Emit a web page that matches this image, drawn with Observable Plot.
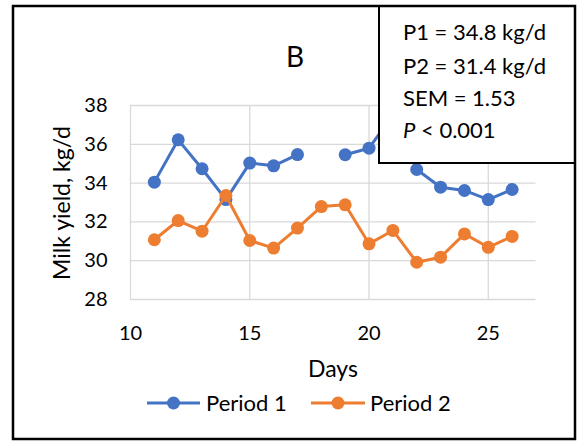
<!DOCTYPE html>
<html><head><meta charset="utf-8">
<script src="https://cdn.jsdelivr.net/npm/d3@7"></script>
<script src="https://cdn.jsdelivr.net/npm/@observablehq/plot@0.6"></script>
<style>
html,body{margin:0;padding:0;background:#fff;}
#chart svg{display:block;}
</style>
</head><body><div id="chart"></div>
<script>
// ---- data ----
const days = [11, 12, 13, 14, 15, 16, 17, 18, 19, 20, 21, 22, 23, 24, 25, 26];
const period1 = [34.05, 36.23, 34.74, 33.15, 35.03, 34.89, 35.47, null, 35.46, 35.8, 37.5, 34.7, 33.79, 33.62, 33.15, 33.67];
const period2 = [31.08, 32.07, 31.52, 33.36, 31.04, 30.65, 31.68, 32.79, 32.88, 30.87, 31.56, 29.92, 30.18, 31.38, 30.69, 31.25];
const seriesNames = ["Period 1", "Period 2"];
const seriesColors = ["#4472C4", "#ED7D31"];
const xTicks = [10, 15, 20, 25];
const yTicks = [28, 30, 32, 34, 36, 38];
const chartTitle = "B";
const xTitle = "Days";
const yTitle = "Milk yield, kg/d";
const statLines = ["P1 = 34.8 kg/d", "P2 = 31.4 kg/d", "SEM = 1.53"];
const pLine = {italic: "P", rest: " < 0.001"};

const rows1 = days.map((d, i) => ({day: d, value: period1[i], series: seriesNames[0]}));
const rows2 = days.map((d, i) => ({day: d, value: period2[i], series: seriesNames[1]}));

const FONT = "Lato, 'Open Sans', sans-serif";
const W = 577, H = 441;

const plot = Plot.plot({
  width: W, height: H,
  marginLeft: 130, marginRight: 41.5, marginTop: 105, marginBottom: 142,
  style: {fontFamily: FONT, fontSize: "20px", color: "#000", background: "#fff", overflow: "visible"},
  x: {domain: [10, 27], label: null},
  y: {domain: [28, 38], label: null},
  color: {domain: seriesNames, range: seriesColors},
  marks: [
    Plot.gridX(xTicks, {stroke: "#d9d9d9", strokeOpacity: 1, strokeWidth: 1.3}),
    Plot.gridY(yTicks, {stroke: "#d9d9d9", strokeOpacity: 1, strokeWidth: 1.3}),
    Plot.axisX(xTicks, {tickSize: 0, tickPadding: 26, label: null, fontSize: 20}),
    Plot.axisY(yTicks, {tickSize: 0, tickPadding: 23, label: null, fontSize: 20}),
    Plot.line(rows1, {x: "day", y: "value", stroke: "series", strokeWidth: 3}),
    Plot.dot(rows1, {x: "day", y: "value", fill: "series", r: 6.5}),
    Plot.line(rows2, {x: "day", y: "value", stroke: "series", strokeWidth: 3}),
    Plot.dot(rows2, {x: "day", y: "value", fill: "series", r: 6.5})
  ]
});
document.getElementById("chart").appendChild(plot);

// ---- decorations (titles, stat box, legend, border) ----
const svg = d3.select(plot);
const g = svg.append("g").attr("font-family", FONT).attr("fill", "#000").attr("text-anchor", "start");

g.append("text").attr("x", 295).attr("y", 67).attr("text-anchor", "middle")
  .attr("font-size", 28).text(chartTitle);

g.append("text").attr("x", 333).attr("y", 377).attr("text-anchor", "middle")
  .attr("font-size", 23).text(xTitle);

g.append("text").attr("transform", "translate(70,203) rotate(-90)")
  .attr("text-anchor", "middle").attr("font-size", 23).text(yTitle);

// stat box
g.append("rect").attr("x", 379).attr("y", 6).attr("width", 196).attr("height", 157)
  .attr("fill", "#fff").attr("stroke", "#000").attr("stroke-width", 2);
const baselines = [40, 74, 106, 137.5];
statLines.forEach((t, i) => {
  g.append("text").attr("x", 403).attr("y", baselines[i]).attr("font-size", 22).text(t);
});
const pt = g.append("text").attr("x", 403).attr("y", baselines[3]).attr("font-size", 22);
pt.append("tspan").attr("font-style", "italic").text(pLine.italic);
pt.append("tspan").text(pLine.rest);

// legend
const legendItems = [
  {x0: 147, x1: 200, tx: 206},
  {x0: 311, x1: 365, tx: 370}
];
legendItems.forEach((it, i) => {
  const ly = 403;
  g.append("line").attr("x1", it.x0).attr("x2", it.x1).attr("y1", ly).attr("y2", ly)
    .attr("stroke", seriesColors[i]).attr("stroke-width", 3);
  g.append("circle").attr("cx", (it.x0 + it.x1) / 2).attr("cy", ly).attr("r", 6.5)
    .attr("fill", seriesColors[i]);
  g.append("text").attr("x", it.tx).attr("y", ly + 7.5).attr("font-size", 22).text(seriesNames[i]);
});

// outer border
g.append("rect").attr("x", 13).attr("y", 6).attr("width", 562).attr("height", 433)
  .attr("fill", "none").attr("stroke", "#000").attr("stroke-width", 2.5);
</script>
</body></html>
